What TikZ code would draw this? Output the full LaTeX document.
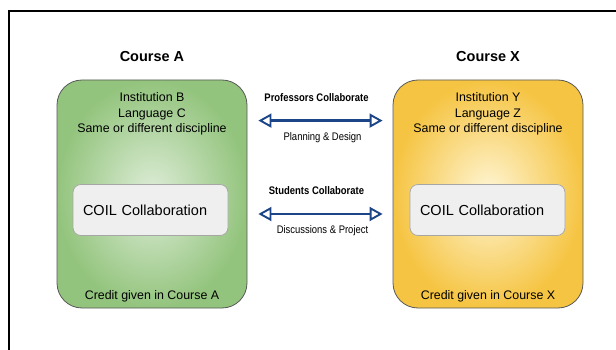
\documentclass[tikz,border=0pt]{standalone}
\usepackage{fontspec}
\setmainfont{Liberation Sans}
\newfontfamily\narrowfont[FakeStretch=0.86]{Liberation Sans}
\usepackage{tikz}
\usetikzlibrary{arrows.meta, positioning}
\definecolor{coilgreen}{RGB}{147, 196, 125}
\definecolor{coilgreenlt}{RGB}{222, 237, 216}
\definecolor{coilyellow}{RGB}{245, 196, 66}
\definecolor{coilyellowlt}{RGB}{255, 246, 214}
\definecolor{coilblue}{RGB}{28, 69, 135}
\definecolor{coilgray}{RGB}{239, 239, 239}

\begin{document}
\begin{tikzpicture}[
    x=1pt, y=-1pt,
    course/.style={rectangle, rounded corners=25pt, draw=black!65,
                   line width=0.8pt, minimum width=190pt,
                   minimum height=228pt},
    coil/.style={rectangle, rounded corners=8pt, draw=black!35,
                 fill=coilgray, line width=0.7pt, minimum width=155pt,
                 minimum height=51pt, text width=135pt, align=left,
                 font=\fontsize{14.5}{17}\selectfont},
    title/.style={font=\fontsize{14.5}{17}\selectfont\bfseries},
    info/.style={align=center, inner sep=0pt,
                 font=\fontsize{12.4}{15.5}\selectfont},
    tip/.style={Triangle[open, length=13pt, width=14pt, line width=1.9pt]},
    arr/.style={{Triangle[open, length=13pt, width=14pt, line width=1.9pt]}-{Triangle[open, length=13pt, width=14pt, line width=1.9pt]},
                line width=2.8pt, coilblue, shorten <=11pt, shorten >=10pt},
    lbl/.style={font=\narrowfont\fontsize{11}{13}\selectfont, text=black,
                inner sep=0pt}
]
\useasboundingbox (0,0) rectangle (616,350);

% frame
\draw[line width=2pt] (9,350) -- (9,11) -- (616,11);

% Course A
\node[course, inner color=coilgreenlt, outer color=coilgreen] (courseA) at (152,194) {};
\node[title, above=14.5pt of courseA] (titleA) {Course A};
\node[info, anchor=north] (infoA) at ([yshift=-13pt]courseA.north)
    {Institution B\\Language C\\Same or different discipline};
\node[coil] (coilA) at ([xshift=-1.5pt, yshift=-16pt]courseA.center) {COIL Collaboration};
\node[info, anchor=south] (creditA) at ([yshift=6pt]courseA.south) {Credit given in Course A};

% Course X
\node[course, inner color=coilyellowlt, outer color=coilyellow] (courseX) at (488,194) {};
\node[title, above=14.5pt of courseX] (titleX) {Course X};
\node[info, anchor=north] (infoX) at ([yshift=-13pt]courseX.north)
    {Institution Y\\Language Z\\Same or different discipline};
\node[coil] (coilX) at ([xshift=-0.5pt, yshift=-16pt]courseX.center) {COIL Collaboration};
\node[info, anchor=south] (creditX) at ([yshift=6pt]courseX.south) {Credit given in Course X};

% Arrows
\draw[arr] ([yshift=-41pt]courseA.north east) --
    node[lbl, above=18pt, xshift=-3.5pt, font=\narrowfont\fontsize{11}{13}\selectfont\bfseries] (profs) {Professors Collaborate}
    node[lbl, below=11pt, xshift=2.5pt] (plan) {Planning \& Design}
    ([yshift=-41pt]courseX.north west);
\draw[arr] ([yshift=-20pt]courseA.east) --
    node[lbl, above=18pt, xshift=-3.5pt, font=\narrowfont\fontsize{11}{13}\selectfont\bfseries] (studs) {Students Collaborate}
    node[lbl, below=10pt, xshift=2.5pt] (disc) {Discussions \& Project}
    ([yshift=-20pt]courseX.west);

\end{tikzpicture}
\end{document}
